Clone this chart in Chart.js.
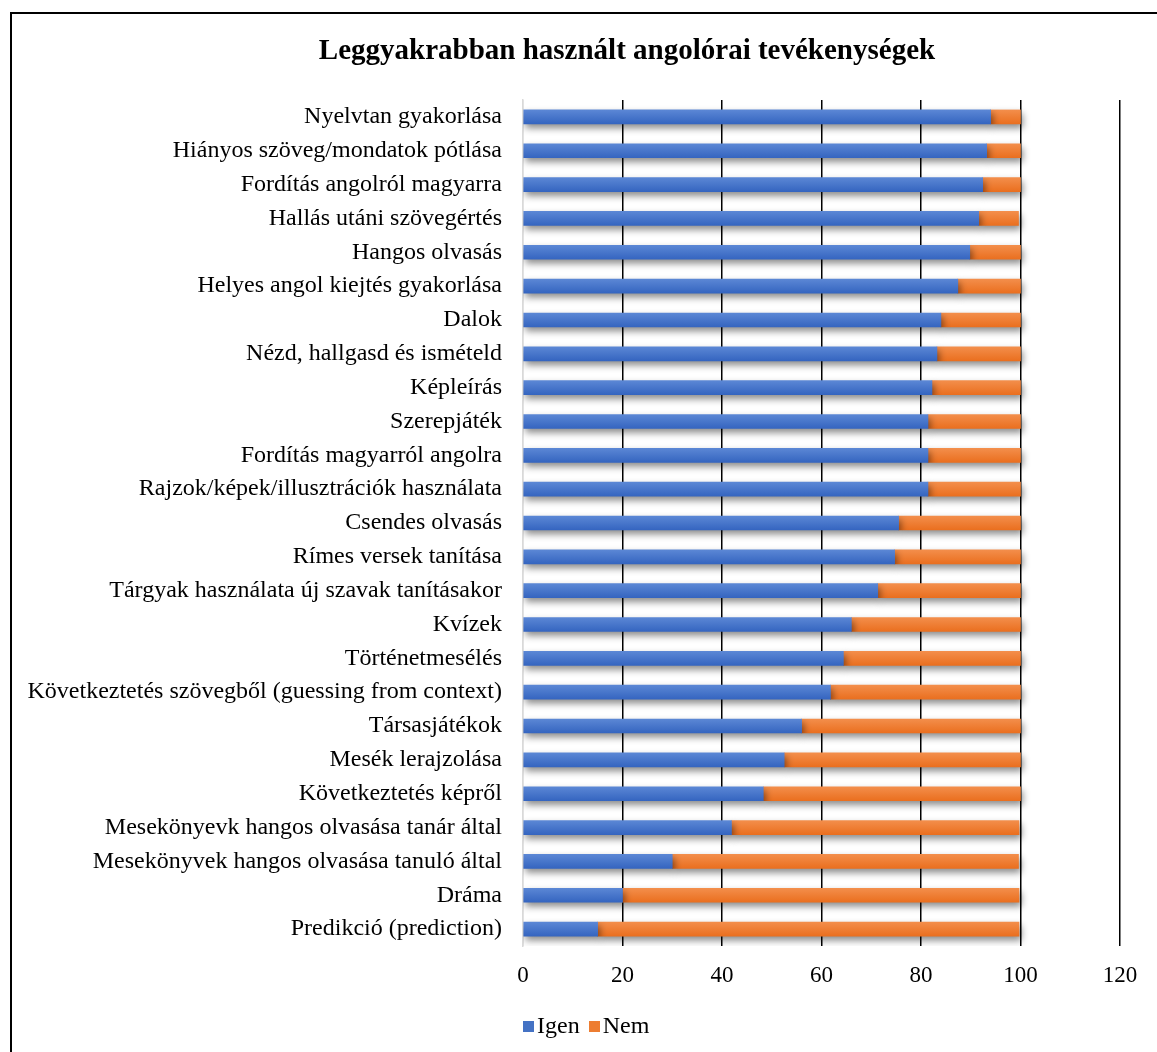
<!DOCTYPE html>
<html>
<head>
<meta charset="utf-8">
<script src="https://cdn.jsdelivr.net/npm/chart.js@4.4.1/dist/chart.umd.min.js"></script>
<style>
  body { margin: 0; background: #fff; overflow: hidden; }
  .wrap { position: relative; width: 1157px; height: 1052px; font-family: 'Liberation Serif', 'Times New Roman', serif; }
  .frame { position: absolute; left: 10px; top: 12px; width: 1200px; height: 1100px; border: 2px solid #000; pointer-events: none; }
  canvas { position: absolute; left: 0; top: 0; }
  .title { position: absolute; left: 0; width: 1254px; top: 31px; text-align: center; font-size: 29px; font-weight: bold; line-height: 36px; color: #000; }
  .legend { position: absolute; left: 523px; top: 1011px; font-size: 24px; line-height: 28px; color: #000; }
  .legend span.box { display: inline-block; width: 11px; height: 11px; margin-right: 3px; vertical-align: 1px; }
  .legend span.item { margin-right: 9px; }
</style>
</head>
<body>
<div class="wrap">
  <canvas id="activityChart" width="1157" height="1052"></canvas>
  <div class="title">Leggyakrabban használt angolórai tevékenységek</div>
  <div class="legend" id="legend"></div>
  <div class="frame"></div>
</div>
<script>
const activities = [
  'Nyelvtan gyakorlása',
  'Hiányos szöveg/mondatok pótlása',
  'Fordítás angolról magyarra',
  'Hallás utáni szövegértés',
  'Hangos olvasás',
  'Helyes angol kiejtés gyakorlása',
  'Dalok',
  'Nézd, hallgasd és ismételd',
  'Képleírás',
  'Szerepjáték',
  'Fordítás magyarról angolra',
  'Rajzok/képek/illusztrációk használata',
  'Csendes olvasás',
  'Rímes versek tanítása',
  'Tárgyak használata új szavak tanításakor',
  'Kvízek',
  'Történetmesélés',
  'Következtetés szövegből (guessing from context)',
  'Társasjátékok',
  'Mesék lerajzolása',
  'Következtetés képről',
  'Mesekönyevk hangos olvasása tanár által',
  'Mesekönyvek hangos olvasása tanuló által',
  'Dráma',
  'Predikció (prediction)'
];

const igenValues = [94.0, 93.2, 92.4, 91.6, 89.8, 87.4, 84.0, 83.2, 82.2, 81.4, 81.4, 81.4, 75.5, 74.7, 71.3, 66.0, 64.4, 61.8, 56.0, 52.5, 48.3, 41.9, 30.0, 20.0, 15.0];
const nemValues = [6.0, 6.8, 7.6, 8.0, 10.2, 12.6, 16.0, 16.8, 17.8, 18.6, 18.6, 18.6, 24.5, 25.3, 28.7, 34.0, 35.6, 38.2, 44.0, 47.5, 51.7, 57.8, 69.6, 79.7, 84.7];

const xTicks = [0, 20, 40, 60, 80, 100, 120];

const serif = "'Liberation Serif', 'Times New Roman', serif";
const barSize = 14;

// light-to-dark vertical shading on each bar
function shaded(top, bottom) {
  return (c) => {
    const chart = c.chart;
    const yScale = chart.scales.y;
    if (!yScale || c.dataIndex === undefined) return bottom;
    const mid = yScale.getPixelForValue(c.dataIndex);
    if (!Number.isFinite(mid)) return bottom;
    const g = chart.ctx.createLinearGradient(0, mid - barSize / 2, 0, mid + barSize / 2);
    g.addColorStop(0, top);
    g.addColorStop(1, bottom);
    return g;
  };
}

// soft shadow under the bars, like the office chart
const barShadow = {
  id: 'barShadow',
  beforeDatasetDraw(chart) {
    const ctx = chart.ctx;
    ctx.save();
    ctx.shadowColor = 'rgba(0, 0, 0, 0.45)';
    ctx.shadowBlur = 7;
    ctx.shadowOffsetX = 2;
    ctx.shadowOffsetY = 4;
  },
  afterDatasetDraw(chart) {
    chart.ctx.restore();
  }
};

const config = {
  type: 'bar',
  data: {
    labels: activities,
    datasets: [
      {
        label: 'Igen',
        data: igenValues,
        legendColor: '#4472C4',
        backgroundColor: shaded('#5B87D5', '#3565C0'),
        barThickness: barSize
      },
      {
        label: 'Nem',
        data: nemValues,
        legendColor: '#ED7D31',
        backgroundColor: shaded('#F38E4B', '#EA6F1F'),
        barThickness: barSize
      }
    ]
  },
  options: {
    indexAxis: 'y',
    responsive: false,
    animation: false,
    layout: { padding: { left: 0, right: 37, top: 100, bottom: 43 } },
    scales: {
      x: {
        stacked: true,
        min: 0,
        max: 120,
        afterBuildTicks: (scale) => {
          scale.ticks = xTicks.map(v => ({ value: v }));
        },
        afterFit: (scale) => { scale.height = 63; },
        grid: {
          color: (c) => c.tick && c.tick.value === 0 ? '#d9d9d9' : '#000',
          lineWidth: 1.5,
          drawTicks: false
        },
        border: { display: false },
        ticks: {
          padding: 16,
          color: '#000',
          font: { family: serif, size: 23 }
        }
      },
      y: {
        stacked: true,
        afterFit: (scale) => { scale.width = 523; },
        grid: { display: false, drawTicks: false },
        border: { display: true, color: '#d9d9d9', width: 1.5 },
        ticks: {
          padding: 21,
          color: '#000',
          autoSkip: false,
          font: { family: serif, size: 24 }
        }
      }
    },
    plugins: {
      title: { display: false },
      legend: { display: false },
      tooltip: { enabled: false }
    }
  },
  plugins: [barShadow]
};

let canvasChart = document.getElementById('activityChart');
const myChart = new Chart(canvasChart, config);

// legend built from the datasets
let legendBox = document.getElementById('legend');
myChart.data.datasets.forEach(ds => {
  let item = document.createElement('span');
  item.className = 'item';
  let box = document.createElement('span');
  box.className = 'box';
  box.style.background = ds.legendColor;
  item.appendChild(box);
  item.appendChild(document.createTextNode(ds.label));
  legendBox.appendChild(item);
});
</script>
</body>
</html>
